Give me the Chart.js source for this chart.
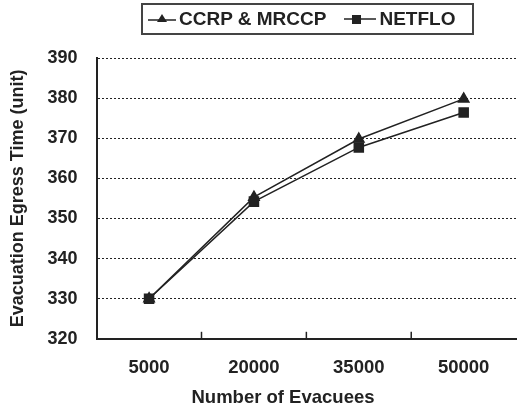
<!DOCTYPE html>
<html>
<head>
<meta charset="utf-8">
<script src="https://cdn.jsdelivr.net/npm/chart.js@4"></script>
<style>
  html, body { margin: 0; padding: 0; background: #fff; overflow: hidden; }
  #wrap { position: relative; width: 524px; height: 410px; }
  #legend {
    position: absolute; left: 141px; top: 3px; width: 329px; height: 28px;
    border: 2px solid #444; display: flex; align-items: center;
    font: bold 19px "Liberation Sans", Arial, sans-serif; color: #222;
    box-sizing: content-box;
  }
  #legend svg { display: block; }
  .item { display: flex; align-items: center; }
  #xtitle {
    position: absolute; left: 183px; width: 200px; top: 386px; text-align: center;
    font: bold 18.5px "Liberation Sans", Arial, sans-serif; color: #222; line-height: 22px;
  }
</style>
</head>
<body>
<div id="wrap">
  <canvas id="chart" width="524" height="410"></canvas>
  <div id="legend"></div>
  <div id="xtitle">Number of Evacuees</div>
</div>
<script>
var categories = ['5000', '20000', '35000', '50000'];
var ccrp = [330, 355.3, 369.8, 379.8];
var netflo = [330, 354.2, 367.7, 376.4];
var yTicks = [320, 330, 340, 350, 360, 370, 380, 390];
var seriesNames = ['CCRP & MRCCP', 'NETFLO'];

var font = '"Liberation Sans", Arial, sans-serif';

// legend in html, icons are little svgs
var legend = document.getElementById('legend');
legend.innerHTML =
  '<div class="item" style="margin-left:5px">' +
    '<svg width="28" height="14"><line x1="0" y1="8" x2="28" y2="8" stroke="#222" stroke-width="1.5"/>' +
    '<polygon points="14,2 19,10 9,10" fill="#222"/></svg>' +
    '<span style="margin-left:3px">' + seriesNames[0] + '</span></div>' +
  '<div class="item" style="margin-left:18px">' +
    '<svg width="32" height="14"><line x1="0" y1="7" x2="32" y2="7" stroke="#222" stroke-width="1.5"/>' +
    '<rect x="8" y="3" width="9" height="9" fill="#222"/></svg>' +
    '<span style="margin-left:3px">' + seriesNames[1] + '</span></div>';

// small tick marks between categories, pointing up into the plot
var innerTicks = {
  id: 'innerTicks',
  afterDraw: function(chart) {
    var x = chart.scales.x, area = chart.chartArea, c = chart.ctx;
    c.save();
    c.strokeStyle = '#222';
    c.lineWidth = 1.5;
    for (var i = 1; i < categories.length; i++) {
      var px = (x.getPixelForValue(i - 1) + x.getPixelForValue(i)) / 2;
      c.beginPath();
      c.moveTo(px, area.bottom);
      c.lineTo(px, area.bottom - 7);
      c.stroke();
    }
    c.restore();
  }
};

new Chart(document.getElementById('chart'), {
  type: 'line',
  data: {
    labels: categories,
    datasets: [{
      label: seriesNames[0],
      data: ccrp,
      borderColor: '#222',
      backgroundColor: '#222',
      borderWidth: 1.5,
      pointStyle: 'triangle',
      pointRadius: 6,
      tension: 0
    }, {
      label: seriesNames[1],
      data: netflo,
      borderColor: '#222',
      backgroundColor: '#222',
      borderWidth: 1.5,
      pointStyle: 'rect',
      pointRadius: 6.4,
      tension: 0
    }]
  },
  options: {
    responsive: false,
    animation: false,
    layout: { padding: { top: 58, left: 2, right: 4, bottom: 13 } },
    plugins: { legend: { display: false }, tooltip: { enabled: false } },
    scales: {
      x: {
        offset: true,
        grid: { display: false, drawTicks: false },
        border: { display: true, color: '#222', width: 2 },
        ticks: { color: '#222', padding: 18, font: { family: font, size: 18.5, weight: 'bold' } }
      },
      y: {
        min: 320, max: 390,
        afterBuildTicks: function(s) { s.ticks = yTicks.map(function(v) { return { value: v }; }); },
        grid: { color: '#222', lineWidth: 1, drawTicks: false },
        border: { display: true, color: '#222', width: 2, dash: [2, 2] },
        ticks: { color: '#222', padding: 19, font: { family: font, size: 18, weight: 'bold' } },
        title: {
          display: true, text: 'Evacuation Egress Time (unit)', color: '#222',
          padding: { top: 5, bottom: 0 },
          font: { family: font, size: 18, weight: 'bold' }
        }
      }
    }
  },
  plugins: [innerTicks]
});
</script>
</body>
</html>
